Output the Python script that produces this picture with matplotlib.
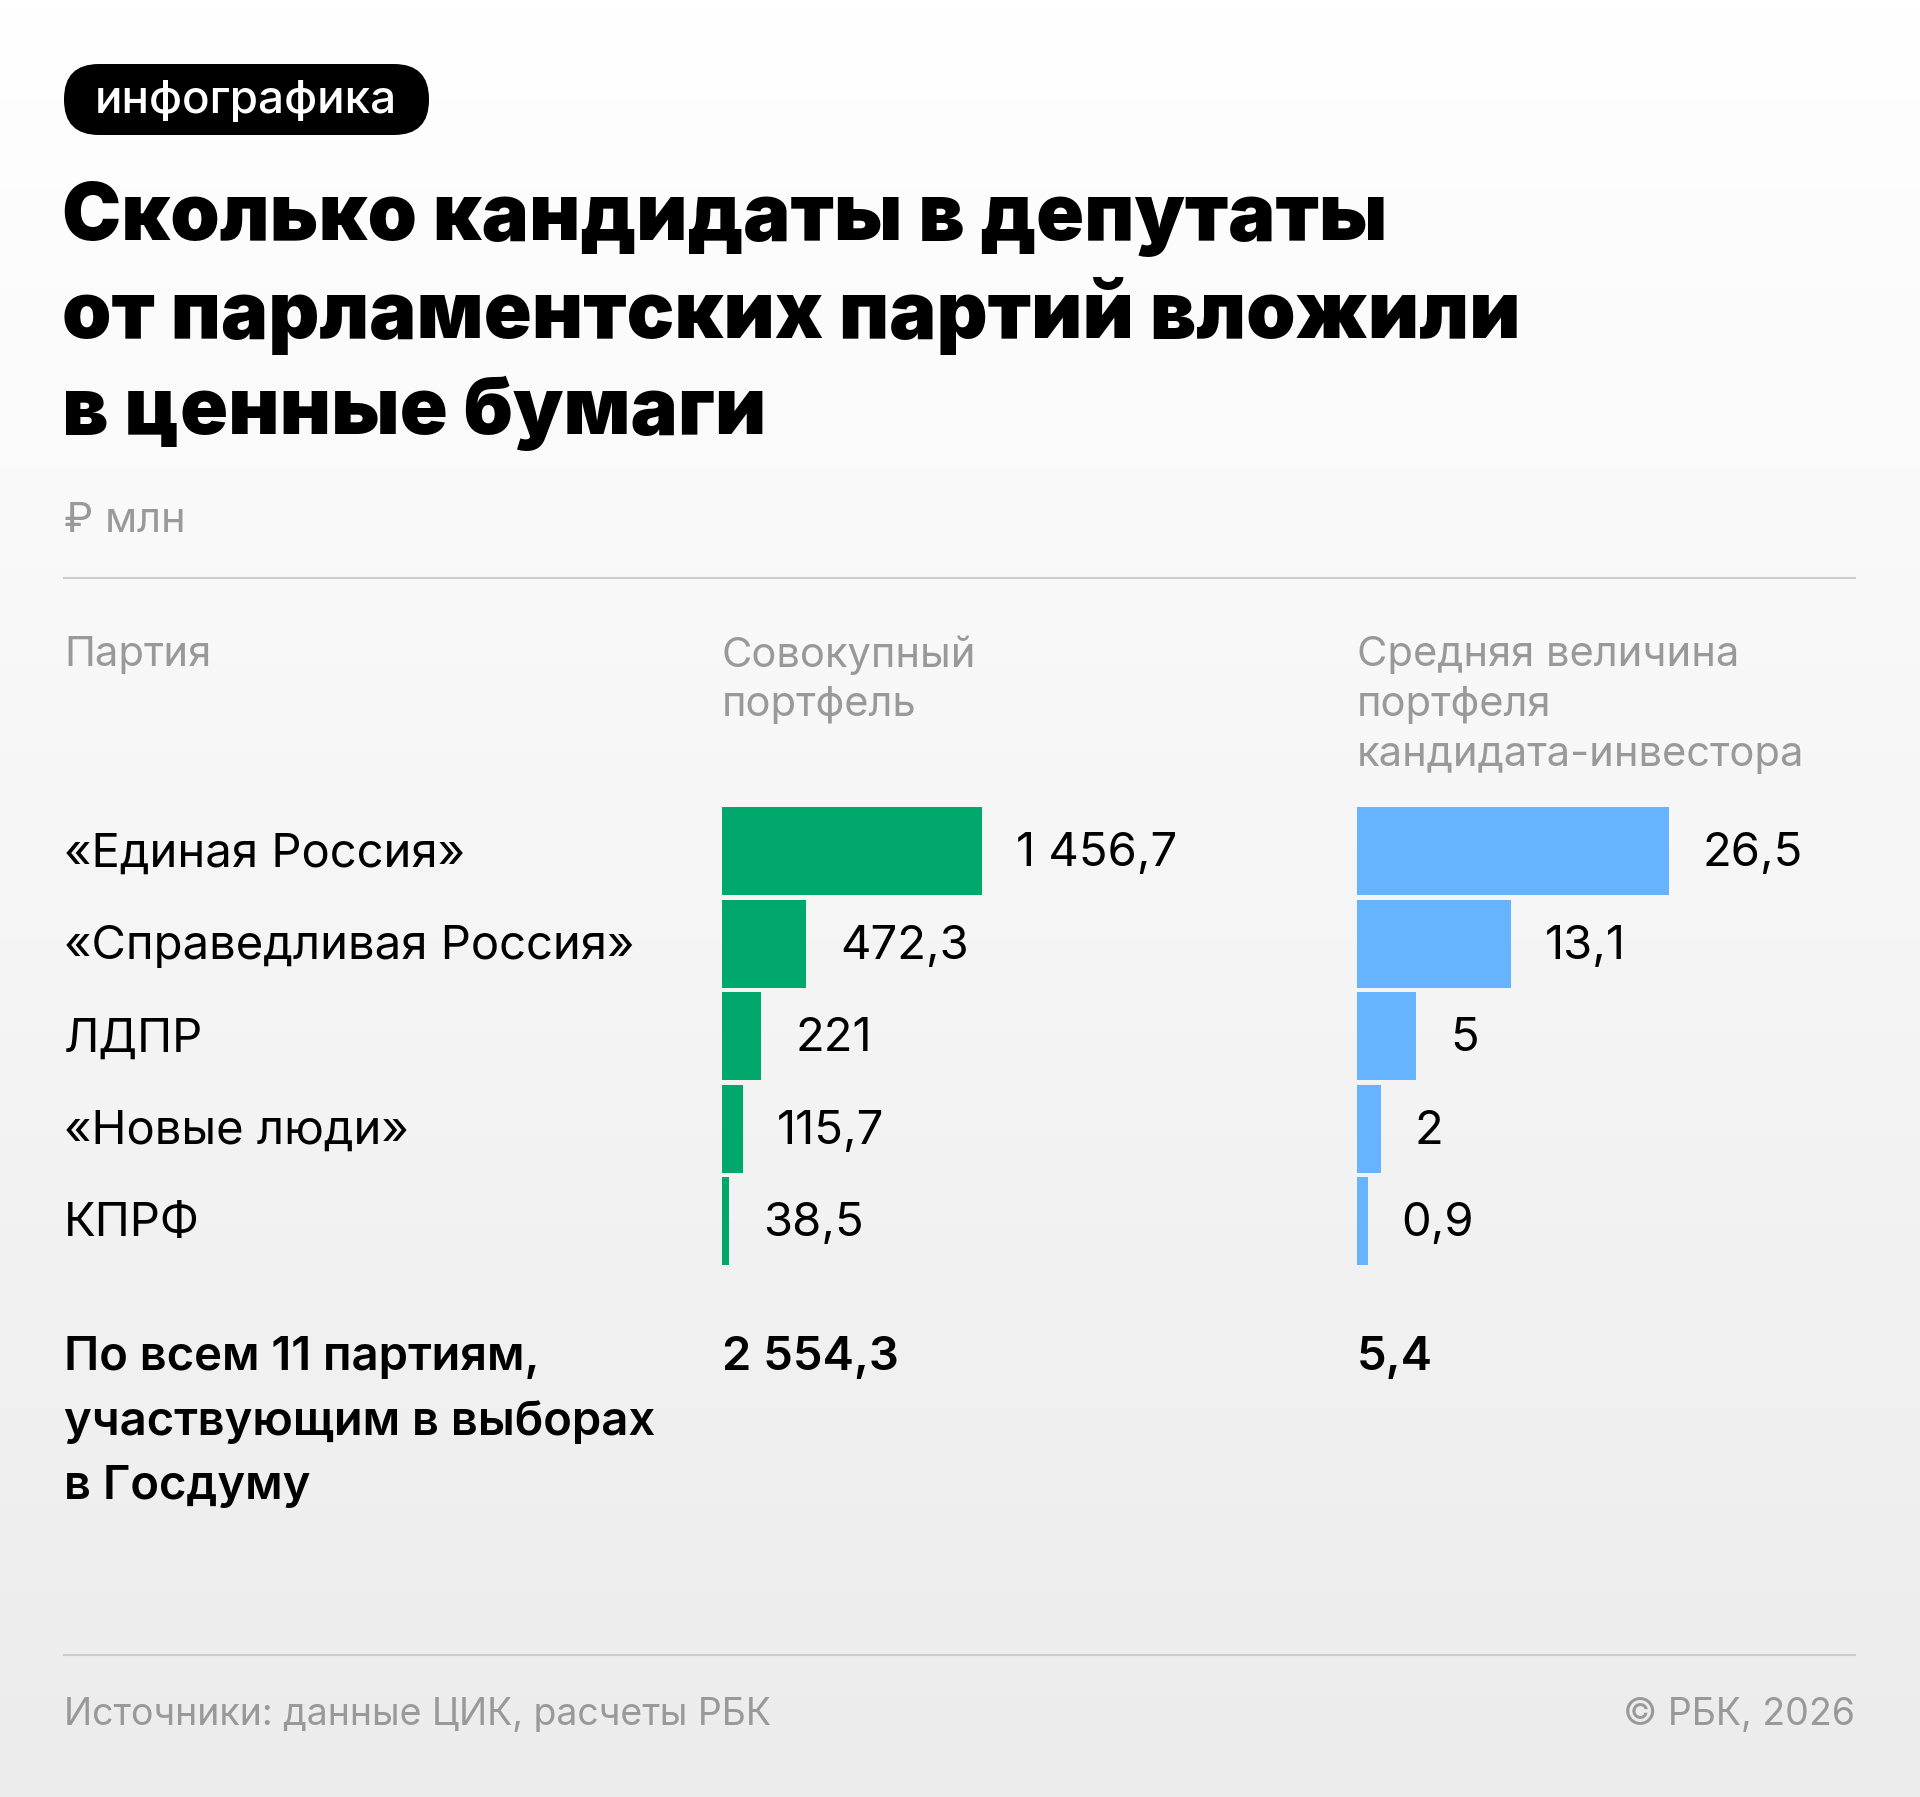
import numpy as np
import matplotlib
matplotlib.use("Agg")
import matplotlib.pyplot as plt
from matplotlib.patches import FancyBboxPatch

# data
parties = ["«Единая Россия»", "«Справедливая Россия»", "ЛДПР", "«Новые люди»", "КПРФ"]
total_portfolio = [1456.7, 472.3, 221, 115.7, 38.5]
avg_portfolio = [26.5, 13.1, 5, 2, 0.9]
total_labels = ["1 456,7", "472,3", "221", "115,7", "38,5"]
avg_labels = ["26,5", "13,1", "5", "2", "0,9"]
all_total = "2 554,3"
all_avg = "5,4"

title_lines = ["Сколько кандидаты в депутаты",
               "от парламентских партий вложили",
               "в ценные бумаги"]
col_party = ["Партия"]
col_total = ["Совокупный", "портфель"]
col_avg = ["Средняя величина", "портфеля", "кандидата-инвестора"]
total_row = ["По всем 11 партиям,", "участвующим в выборах", "в Госдуму"]

GREEN = "#00a86b"
BLUE = "#66b3ff"
GRAY = "#999999"
FONT = ["Inter", "DejaVu Sans"]

W, H = 1920, 1797
fig = plt.figure(figsize=(W / 100, H / 100), dpi=100)
ax = fig.add_axes([0, 0, 1, 1])
ax.set_xlim(0, W)
ax.set_ylim(H, 0)
ax.axis("off")

# background gradient
grad = np.linspace(1.0, 0.925, 256).reshape(-1, 1)
ax.imshow(np.dstack([grad, grad, grad]), extent=[0, W, H, 0], aspect="auto", zorder=0)

# tag pill
pill = FancyBboxPatch((64 + 35, 64 + 35), 365 - 70, 1, boxstyle="round,pad=35,rounding_size=35",
                      fc="black", ec="none", zorder=2)
ax.add_patch(pill)
ax.text(246, 101, "инфографика", color="white", fontsize=33, fontweight="medium",
        family=FONT, ha="center", va="center", zorder=3)

# title
for i, line in enumerate(title_lines):
    ax.text(62, 219 + i * 97, line, fontsize=57, fontweight="black", family=FONT,
            ha="left", va="center")

ax.text(64, 521, "₽ млн", fontsize=30, color=GRAY, family=FONT, ha="left", va="center")
ax.plot([64, 1855], [578, 578], color="#cccccc", lw=1.5)

# column headers
for col_x, lines in [(64, col_party), (722, col_total), (1357, col_avg)]:
    for i, line in enumerate(lines):
        ax.text(col_x, 655 + i * 50, line, fontsize=30, color=GRAY, family=FONT,
                ha="left", va="center")

# bar axes
row_top, row_step = 805, 92.5
n = len(parties)
ax_h = n * row_step / H
ax_y = 1 - (row_top + n * row_step) / H


def bar_panel(left_px, width_px, values, labels, color):
    bax = fig.add_axes([left_px / W, ax_y, width_px / W, ax_h])
    bax.barh(range(n), values, height=0.95, color=color, zorder=2)
    bax.set_xlim(0, max(values))
    bax.set_ylim(n - 0.5, -0.5)
    bax.axis("off")
    for i, (v, lab) in enumerate(zip(values, labels)):
        bax.annotate(lab, (v, i), xytext=(34 * 0.72, -2), textcoords="offset points",
                     fontsize=34, family=FONT, ha="left", va="center", annotation_clip=False)
    return bax


bar_panel(722, 260, total_portfolio, total_labels, GREEN)
bar_panel(1357, 312, avg_portfolio, avg_labels, BLUE)

for i, p in enumerate(parties):
    ax.text(64, row_top + 3 + row_step * (i + 0.5), p, fontsize=34, family=FONT,
            ha="left", va="center")

# total row
for i, line in enumerate(total_row):
    ax.text(64, 1358 + i * 64.5, line, fontsize=34, fontweight="semibold", family=FONT,
            ha="left", va="center")
ax.text(722, 1358, all_total, fontsize=34, fontweight="semibold", family=FONT,
        ha="left", va="center")
ax.text(1357, 1358, all_avg, fontsize=34, fontweight="semibold", family=FONT,
        ha="left", va="center")

# footer
ax.plot([64, 1855], [1655, 1655], color="#cccccc", lw=1.5)
ax.text(64, 1715, "Источники: данные ЦИК, расчеты РБК", fontsize=27, color=GRAY,
        family=FONT, ha="left", va="center")
ax.text(1855, 1715, "© РБК, 2026", fontsize=27, color=GRAY, family=FONT,
        ha="right", va="center")

fig.savefig("out.png", dpi=100)
